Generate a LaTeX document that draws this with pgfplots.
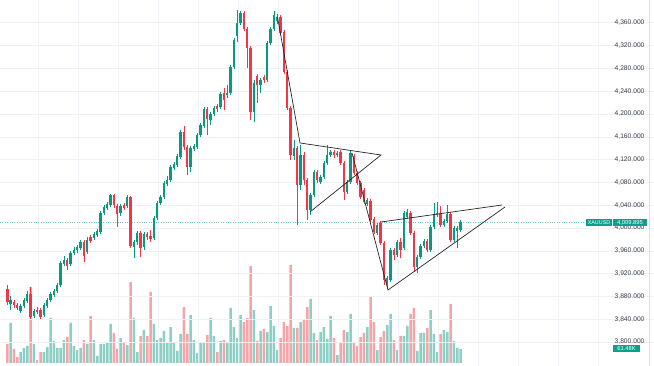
\documentclass[border=0pt]{standalone}
\usepackage{pgfplots}
\pgfplotsset{compat=1.18}
\usepackage{pgfplotstable}
\usepackage{fontspec}
\setmainfont{Liberation Sans}
\definecolor{cup}{HTML}{089981}
\definecolor{cdn}{HTML}{F23645}
\definecolor{vup}{HTML}{8CD0C5}
\definecolor{vdn}{HTML}{F7A4A9}
\definecolor{gridc}{HTML}{EEF1F6}
\definecolor{labelc}{HTML}{3A3E4A}
\definecolor{tagc}{HTML}{0E9F8C}

\pgfplotstableread{
i o h l c v
1 3867 3881 3856 3874 176
4 3855 3867 3851 3863 48
5 3863 3877 3860 3874 66
6 3872 3890 3869 3884 75
8 3846 3858 3842 3855 84
11 3848 3869 3844 3865 48
12 3863 3877 3860 3874 70
13 3874 3888 3870 3884 198
14 3883 3893 3879 3890 97
15 3890 3904 3886 3900 66
16 3900 3942 3897 3939 66
17 3937 3951 3933 3944 101
19 3937 3960 3933 3956 176
20 3956 3967 3953 3962 75
21 3962 3970 3956 3967 57
22 3965 3979 3962 3976 66
24 3958 3984 3955 3979 84
26 3983 3993 3979 3990 101
27 3988 3998 3984 3995 31
28 3993 4030 3990 4026 84
29 4026 4040 4023 4037 84
30 4035 4046 4032 4042 88
31 4040 4060 4037 4058 172
34 4026 4042 4021 4039 110
36 4039 4058 4035 4054 79
38 3967 3979 3947 3976 198
39 3976 3995 3970 3991 48
41 3967 3993 3962 3990 145
44 3983 4021 3979 4018 172
45 4018 4048 4014 4044 101
46 4044 4058 4040 4054 110
47 4054 4083 4051 4079 141
48 4077 4091 4074 4084 88
49 4084 4111 4081 4107 158
50 4105 4116 4102 4112 92
51 4111 4130 4107 4126 53
52 4125 4172 4121 4168 128
55 4107 4144 4098 4140 211
56 4139 4147 4135 4144 101
57 4142 4167 4139 4163 44
58 4163 4184 4160 4181 92
59 4179 4212 4176 4209 92
61 4190 4204 4181 4200 198
62 4200 4214 4197 4211 119
64 4212 4239 4209 4235 97
66 4233 4251 4228 4237 92
67 4237 4286 4233 4283 242
68 4283 4333 4279 4330 158
69 4337 4383 4326 4360 110
70 4360 4381 4356 4377 211
74 4204 4260 4186 4254 233
76 4251 4263 4237 4260 141
78 4260 4328 4256 4325 136
79 4325 4353 4321 4349 251
80 4349 4381 4346 4374 163
81 4363 4375 4358 4370 57
86 4126 4154 4119 4140 154
88 4076 4146 4067 4128 180
91 4032 4061 4023 4058 282
92 4058 4102 4054 4098 132
94 4081 4093 4077 4090 136
95 4090 4118 4086 4114 158
96 4114 4146 4111 4128 106
97 4128 4137 4125 4133 207
99 4128 4135 4125 4132 35
102 4063 4084 4060 4081 136
103 4081 4135 4077 4132 216
108 4042 4053 4039 4049 158
111 3991 4009 3988 4005 57
114 3902 3916 3895 3912 167
115 3909 3965 3905 3962 216
117 3953 3979 3949 3976 57
119 3965 4030 3962 4026 119
120 4019 4033 4016 4028 163
123 3932 3953 3921 3949 53
124 3949 3972 3946 3969 132
125 3969 3981 3965 3977 132
127 3962 4005 3958 4002 233
128 4002 4044 3998 4025 128
129 4023 4046 4019 4026 48
131 4005 4016 4002 4012 145
132 4012 4040 4009 4025 136
134 3979 4004 3976 4000 97
135 3995 4004 3965 4000 66
136 3997 4014 3993 4010 61.48
}\upc

\pgfplotstableread{
i o h l c v
0 3893 3900 3865 3870 84
2 3870 3874 3860 3865 62
3 3865 3869 3856 3860 26
7 3884 3897 3841 3844 334
9 3856 3862 3849 3853 13
10 3856 3860 3841 3844 48
18 3944 3948 3926 3933 114
23 3976 3979 3940 3951 101
25 3984 3988 3974 3977 207
32 4058 4060 4035 4040 132
33 4039 4042 4002 4025 62
35 4040 4044 4032 4035 88
37 4054 4056 3965 3968 356
40 3991 3995 3949 3965 119
42 3990 3993 3979 3984 119
43 3986 3997 3976 3981 312
53 4168 4179 4137 4142 246
54 4142 4146 4093 4107 128
60 4209 4212 4163 4191 123
63 4214 4218 4204 4209 48
65 4237 4246 4207 4225 101
71 4377 4381 4346 4349 180
72 4349 4353 4281 4316 198
73 4316 4319 4190 4204 427
75 4267 4270 4219 4251 97
77 4265 4268 4254 4260 150
82 4370 4374 4339 4342 110
83 4344 4347 4270 4274 180
84 4274 4277 4207 4211 163
85 4211 4214 4119 4128 431
87 4140 4144 4005 4076 154
89 4128 4133 4076 4084 189
90 4084 4088 4014 4032 246
93 4098 4102 4079 4084 101
98 4133 4137 4123 4128 110
100 4133 4137 4111 4114 92
101 4114 4118 4049 4063 145
104 4126 4130 4093 4097 92
105 4097 4100 4076 4079 75
106 4079 4083 4051 4054 114
107 4067 4070 4042 4046 132
109 4047 4051 4011 4014 290
110 4016 4019 3990 3993 180
112 4009 4012 3970 3974 114
113 3974 3977 3900 3909 141
116 3962 3965 3944 3953 101
118 3976 3983 3947 3962 119
121 4026 4030 3988 3991 216
122 3991 3995 3923 3932 242
126 3977 3981 3958 3962 154
130 4026 4039 4002 4005 128
133 4025 4028 3976 3979 260
}\dnc

\begin{document}
\begin{tikzpicture}
\path[use as bounding box] (0,0) rectangle (654pt,366pt);
% volume
\begin{axis}[at={(0,0)}, anchor=south west, scale only axis,
  width=654pt, height=366pt, xmin=0, xmax=654, ymin=-13.2, ymax=1597,
  hide axis]
\addplot[ybar, bar width=2.5pt, bar shift=0pt, fill=vup, draw=none]
  table[x expr=7.3+3.333*\thisrow{i}, y=v] {\upc};
\addplot[ybar, bar width=2.5pt, bar shift=0pt, fill=vdn, draw=none]
  table[x expr=7.3+3.333*\thisrow{i}, y=v] {\dnc};
\end{axis}
% price
\begin{axis}[at={(0,0)}, anchor=south west, scale only axis,
  width=654pt, height=366pt, xmin=0, xmax=654, ymin=3758, ymax=4400,
  axis line style={draw=none}, major tick length=0pt,
  xtick={38,78,...,598}, xticklabels={},
  ytick={3800,3840,...,4360},
  yticklabels={{3,800.000},{3,840.000},{3,880.000},{3,920.000},{3,960.000},{4,000.000},{4,040.000},{4,080.000},{4,120.000},{4,160.000},{4,200.000},{4,240.000},{4,280.000},{4,320.000},{4,360.000}},
  yticklabel pos=right,
  yticklabel style={anchor=east, xshift=-6pt, font=\fontsize{6.7}{8}\selectfont, text=labelc},
  grid=major, grid style={gridc, line width=0.6pt},
  clip=false]
% last price line
\addplot[tagc!55, dotted, line width=0.4pt] coordinates {(0,4009.895) (586,4009.895)};
% wicks
\addplot[mark=none, draw=none, error bars/.cd, y dir=plus, y explicit, error mark=none,
  error bar style={draw=cup, line width=0.6pt}]
  table[x expr=7.3+3.333*\thisrow{i}, y=l, y error expr=\thisrow{h}-\thisrow{l}] {\upc};
\addplot[mark=none, draw=none, error bars/.cd, y dir=plus, y explicit, error mark=none,
  error bar style={draw=cdn, line width=0.6pt}]
  table[x expr=7.3+3.333*\thisrow{i}, y=l, y error expr=\thisrow{h}-\thisrow{l}] {\dnc};
% bodies
\addplot[mark=none, draw=none, error bars/.cd, y dir=plus, y explicit, error mark=none,
  error bar style={draw=cup, line width=2.4pt}]
  table[x expr=7.3+3.333*\thisrow{i}, y=o, y error expr=\thisrow{c}-\thisrow{o}] {\upc};
\addplot[mark=none, draw=none, error bars/.cd, y dir=plus, y explicit, error mark=none,
  error bar style={draw=cdn, line width=2.4pt}]
  table[x expr=7.3+3.333*\thisrow{i}, y=c, y error expr=\thisrow{o}-\thisrow{c}] {\dnc};
% drawn trend lines
\addplot[black!85, line width=0.7pt] coordinates {(277.5,4370.2) (300,4149.2) (381,4128.1) (310,4028.2)};
\addplot[black!85, line width=0.7pt] coordinates {(352,4131.6) (388,3891.3) (505,4036.9)};
\addplot[black!85, line width=0.7pt] coordinates {(381,4010.6) (502,4040.4)};
\end{axis}
\draw[gray!25, line width=0.5pt] (649pt,0) -- (649pt,366pt);
\node[fill=tagc, text=white, inner sep=0pt, minimum width=26pt, minimum height=7.5pt,
  font=\fontsize{5.4}{6}\selectfont] at (599pt,143.5pt) {XAUUSD};
\node[fill=tagc, text=white, inner sep=0pt, minimum width=34.6pt, minimum height=7.5pt,
  font=\fontsize{5.8}{6}\selectfont] at (630pt,143.5pt) {4,009.895};
\node[fill=tagc, text=white, inner sep=0pt, minimum width=27pt, minimum height=7pt,
  font=\fontsize{5.8}{6}\selectfont] at (626.5pt,17pt) {61.48K};
\end{tikzpicture}
\end{document}
